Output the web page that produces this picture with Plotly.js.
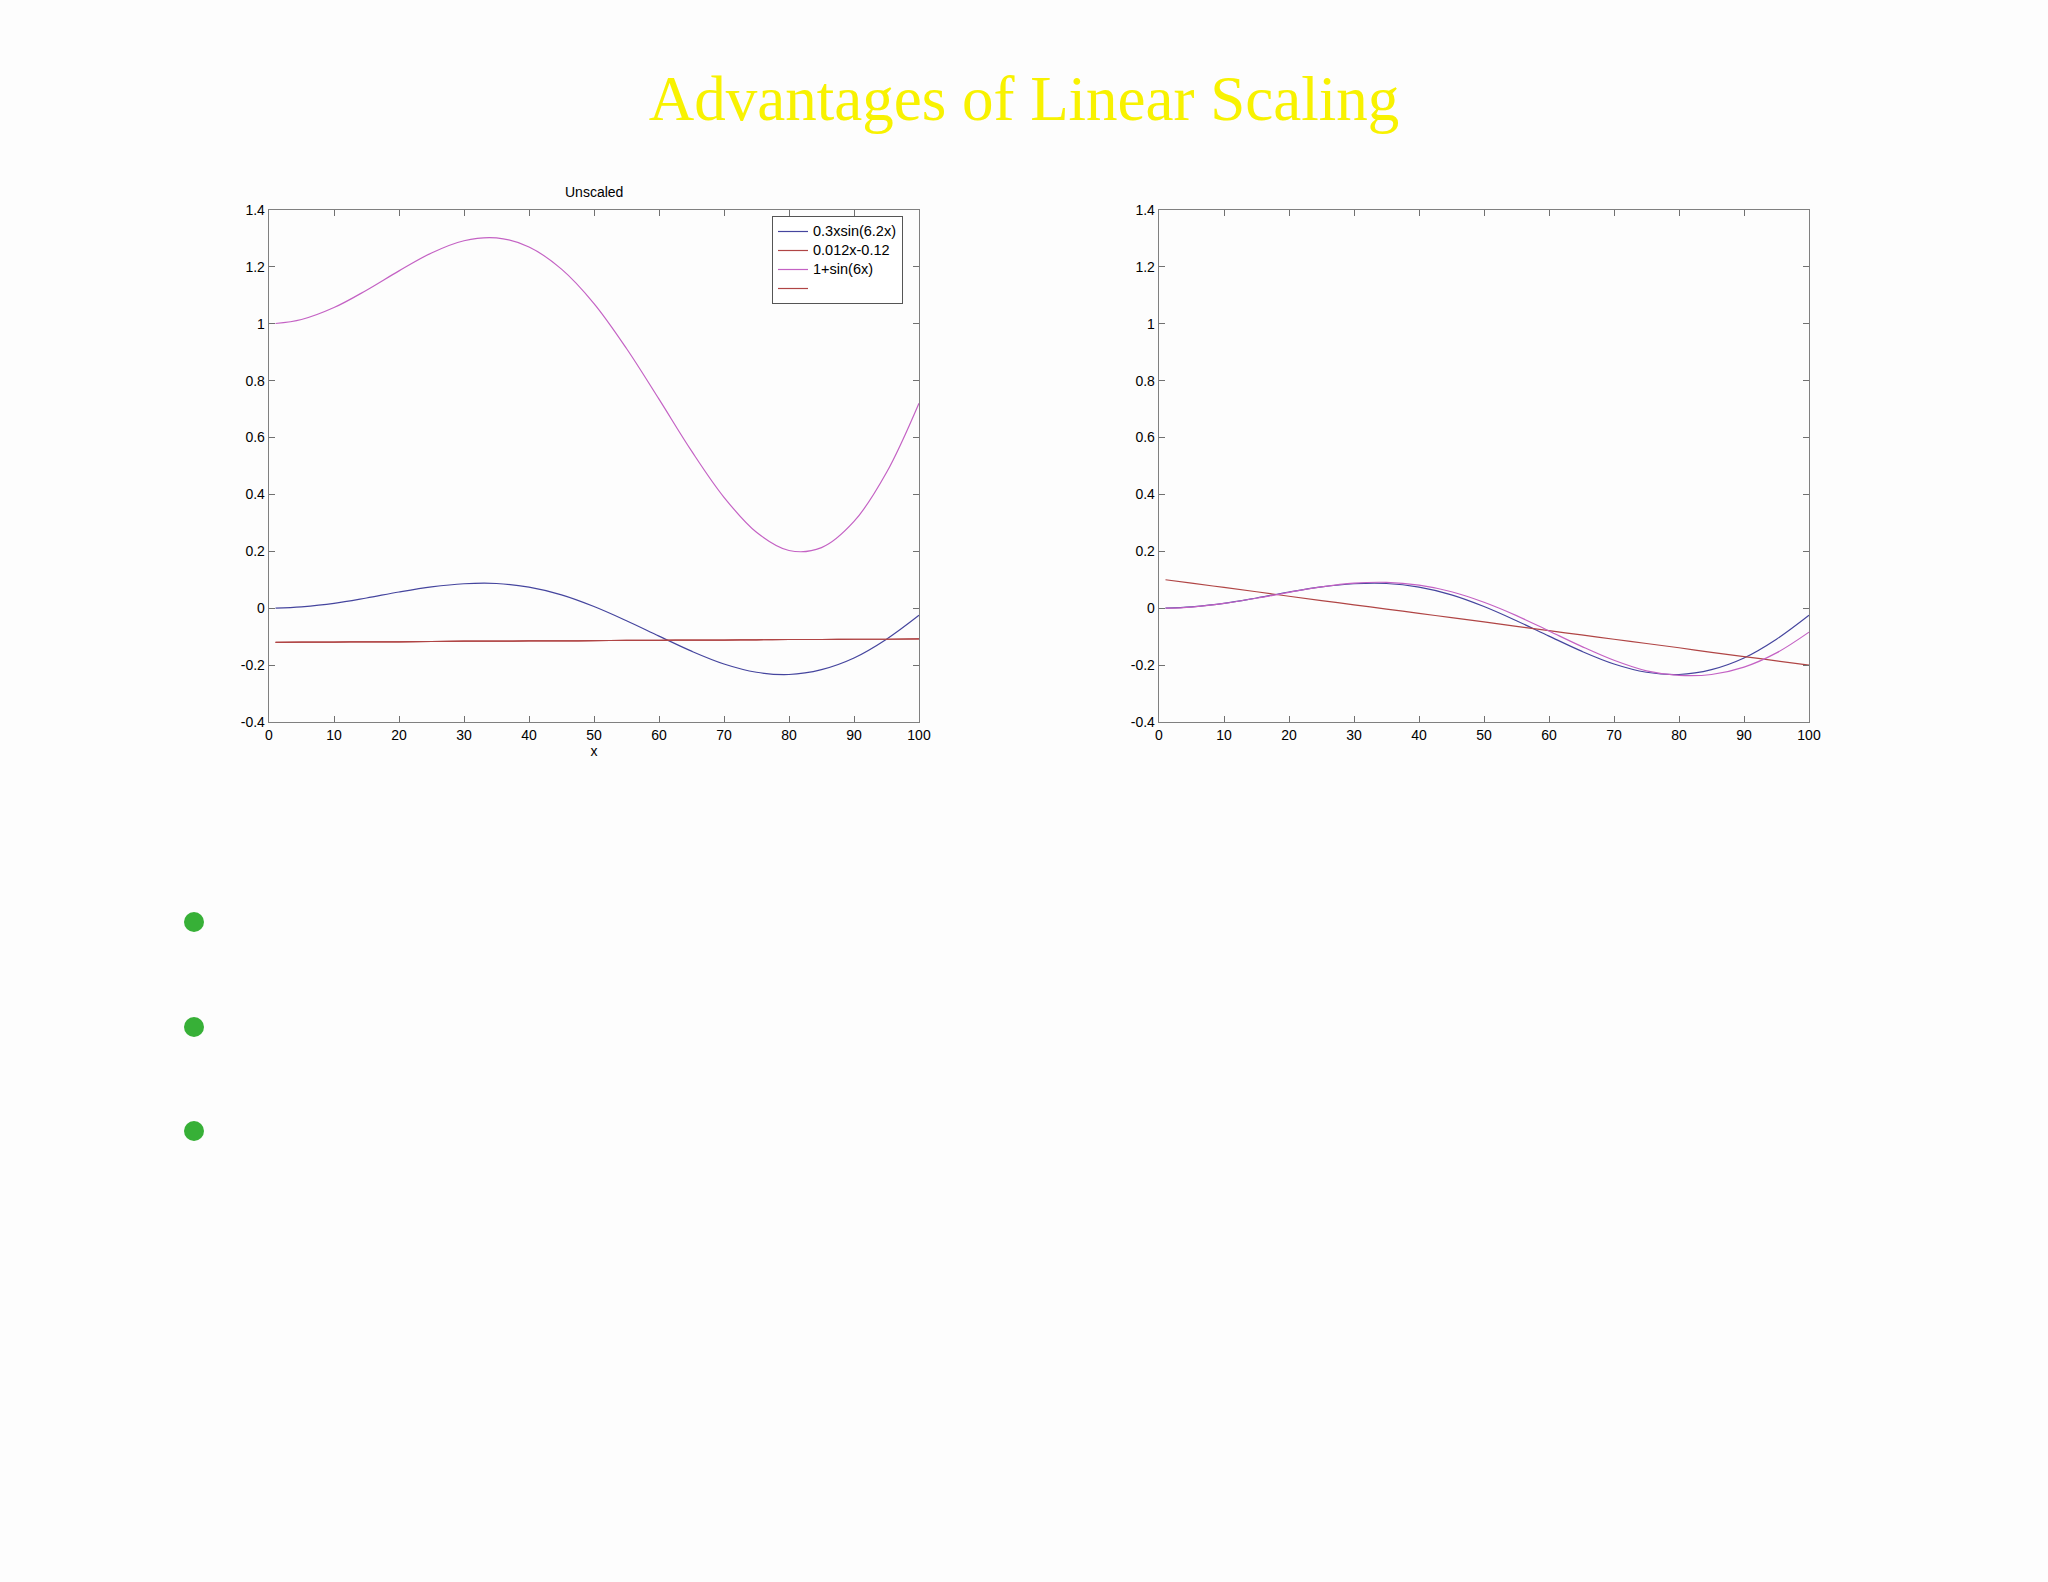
<!DOCTYPE html>
<html>
<head>
<meta charset="utf-8">
<script src="https://cdn.plot.ly/plotly-3.0.1.min.js"></script>
<style>
  html, body { margin: 0; padding: 0; background: #fdfdfd; }
  #chart { width: 2048px; height: 1582px; }
</style>
</head>
<body>
<div id="chart"></div>
<script>
// ---- data ----
const xVals = [1, 5, 10, 15, 20, 25, 30, 35, 40, 45, 50, 55, 60, 65, 70, 75, 80, 85, 90, 95, 100];

// Unscaled panel
const blueSin = [0.000, 0.005, 0.017, 0.036, 0.057, 0.075, 0.086, 0.087, 0.074, 0.047, 0.006,
                 -0.044, -0.098, -0.151, -0.196, -0.225, -0.233, -0.216, -0.175, -0.109, -0.025];
const redLine = [-0.120, -0.119, -0.119, -0.118, -0.118, -0.117, -0.116, -0.116, -0.115, -0.115, -0.114,
                 -0.113, -0.113, -0.112, -0.112, -0.111, -0.110, -0.110, -0.109, -0.109, -0.108];
const magentaSin = [1.001, 1.015, 1.057, 1.118, 1.186, 1.249, 1.292, 1.302, 1.270, 1.192, 1.071,
                    0.913, 0.735, 0.553, 0.390, 0.267, 0.203, 0.213, 0.305, 0.477, 0.721];

// Scaled panel
const magentaScaled = [0.000, 0.004, 0.017, 0.035, 0.056, 0.075, 0.088, 0.091, 0.081, 0.058, 0.021,
                       -0.026, -0.080, -0.134, -0.183, -0.220, -0.236, -0.233, -0.207, -0.157, -0.084];
const redScaled = [0.100, 0.088, 0.073, 0.058, 0.042, 0.027, 0.012, -0.003, -0.018, -0.033, -0.048,
                   -0.064, -0.079, -0.094, -0.109, -0.124, -0.139, -0.155, -0.170, -0.185, -0.200];

const seriesNames = ['0.3xsin(6.2x)', '0.012x-0.12', '1+sin(6x)', ' '];
const xTickVals = [0, 10, 20, 30, 40, 50, 60, 70, 80, 90, 100];
const xTickText = ['0', '10', '20', '30', '40', '50', '60', '70', '80', '90', '100'];
const yTickVals = [-0.4, -0.2, 0, 0.2, 0.4, 0.6, 0.8, 1, 1.2, 1.4];
const yTickText = ['-0.4', '-0.2', '0', '0.2', '0.4', '0.6', '0.8', '1', '1.2', '1.4'];
const bulletRows = [922, 1027, 1131];

// ---- styles ----
const BLUE = '#45459e';
const RED = '#b04545';
const MAG = '#c462c4';
const W = 2048, H = 1582;

function legendLabel(s) {
  return '<span style="font-size:14.5px">' + s + '</span>';
}

function line(x, y, color, name, xa, ya, show) {
  return {
    type: 'scatter', mode: 'lines', x: x, y: y, name: name,
    xaxis: xa, yaxis: ya, showlegend: show, hoverinfo: 'skip',
    line: { color: color, width: 1.2, shape: 'spline', smoothing: 1 }
  };
}

const traces = [
  line(xVals, blueSin, BLUE, legendLabel(seriesNames[0]), 'x', 'y', true),
  line(xVals, redLine, RED, legendLabel(seriesNames[1]), 'x', 'y', true),
  line(xVals, magentaSin, MAG, legendLabel(seriesNames[2]), 'x', 'y', true),
  line(xVals, redLine, RED, legendLabel(seriesNames[3]), 'x', 'y', true),
  line(xVals, blueSin, BLUE, seriesNames[0], 'x2', 'y2', false),
  line(xVals, redScaled, RED, seriesNames[1], 'x2', 'y2', false),
  line(xVals, magentaScaled, MAG, seriesNames[2], 'x2', 'y2', false)
];

const tickFont = { family: 'Liberation Sans, Arial, sans-serif', size: 14, color: '#000' };

function xAxis(domain, anchor, withTitle) {
  const ax = {
    domain: domain, anchor: anchor, range: [0, 100], autorange: false,
    tickmode: 'array', tickvals: xTickVals, ticktext: xTickText,
    ticks: 'inside', ticklen: 6, tickcolor: '#707070', tickwidth: 1,
    showline: true, linecolor: '#808080', linewidth: 1.3, mirror: 'allticks',
    showgrid: false, zeroline: false, tickfont: tickFont
  };
  if (withTitle) ax.title = { text: 'x', font: tickFont, standoff: 4 };
  return ax;
}
function yAxis(domain, anchor) {
  return {
    domain: domain, anchor: anchor, range: [-0.4, 1.4], autorange: false,
    tickmode: 'array', tickvals: yTickVals, ticktext: yTickText,
    ticks: 'inside', ticklen: 6, tickcolor: '#707070', tickwidth: 1,
    showline: true, linecolor: '#808080', linewidth: 1.3, mirror: 'allticks',
    showgrid: false, zeroline: false, tickfont: tickFont
  };
}

const yDom = [(H - 722) / H, (H - 210) / H];

const shapes = bulletRows.map(cy => ({
  type: 'circle', xref: 'paper', yref: 'paper',
  x0: (194 - 10) / W, x1: (194 + 10) / W,
  y0: (H - cy - 10) / H, y1: (H - cy + 10) / H,
  fillcolor: '#37b037', line: { width: 0 }
}));

const layout = {
  width: W, height: H,
  margin: { l: 0, r: 0, t: 0, b: 0 },
  paper_bgcolor: '#fdfdfd', plot_bgcolor: '#fdfdfd',
  title: {
    text: 'Advantages of Linear Scaling',
    font: { family: 'Liberation Serif, Times New Roman, serif', size: 63, color: '#f8f200' },
    x: 0.5, xanchor: 'center', xref: 'paper',
    y: 1 - 98 / H, yanchor: 'middle', yref: 'container'
  },
  xaxis: xAxis([269 / W, 919 / W], 'y', true),
  yaxis: yAxis(yDom, 'x'),
  xaxis2: xAxis([1159 / W, 1809 / W], 'y2', false),
  yaxis2: yAxis(yDom, 'x2'),
  showlegend: true,
  legend: {
    x: 772 / W, y: 1 - 216 / H, xanchor: 'left', yanchor: 'top',
    xref: 'paper', yref: 'paper',
    bgcolor: '#ffffff', bordercolor: '#555555', borderwidth: 1,
    font: { family: 'Liberation Sans, Arial, sans-serif', size: 11, color: '#000' },
    tracegroupgap: 0, itemwidth: 30
  },
  annotations: [{
    text: 'Unscaled', xref: 'x domain', yref: 'paper',
    x: 0.5, y: 1 - 192 / H, xanchor: 'center', yanchor: 'middle',
    showarrow: false,
    font: { family: 'Liberation Sans, Arial, sans-serif', size: 14, color: '#000' }
  }],
  shapes: shapes
};

Plotly.newPlot('chart', traces, layout, { staticPlot: true, displayModeBar: false });
</script>
</body>
</html>
